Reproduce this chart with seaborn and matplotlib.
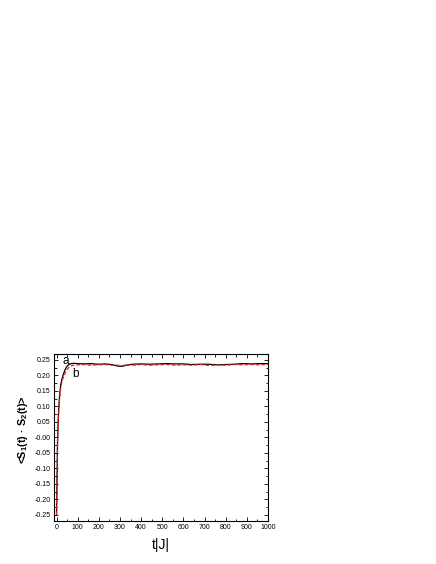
import numpy as np
import pandas as pd
import matplotlib
matplotlib.use("Agg")
import matplotlib.pyplot as plt
import seaborn as sns
from matplotlib.ticker import MultipleLocator

sns.set_style("ticks")
plt.rcParams['font.family'] = ['Liberation Sans', 'DejaVu Sans']
plt.rcParams['text.color'] = 'black'
plt.rcParams['axes.labelcolor'] = 'black'
plt.rcParams['xtick.color'] = 'black'
plt.rcParams['ytick.color'] = 'black'
plt.rcParams['axes.edgecolor'] = 'black'
plt.rcParams['mathtext.fontset'] = 'custom'
plt.rcParams['mathtext.rm'] = 'Liberation Sans'
plt.rcParams['mathtext.bf'] = 'Liberation Sans:bold'

t_vals = [0, 2, 5, 10, 15, 20, 25, 30, 40, 50, 60, 70, 80, 100, 130, 160, 200, 230, 260,
          290, 310, 330, 360, 400, 440, 480, 520, 560, 600, 640, 680, 720, 760, 800,
          840, 880, 920, 960, 1000]
curve_a = [-0.25, -0.15, 0.0, 0.09, 0.14, 0.17, 0.186, 0.199, 0.218, 0.230, 0.236, 0.238, 0.239,
           0.238, 0.237, 0.238, 0.236, 0.237, 0.235, 0.230, 0.229, 0.233, 0.236, 0.237,
           0.236, 0.237, 0.238, 0.237, 0.237, 0.235, 0.236, 0.236, 0.234, 0.235,
           0.236, 0.238, 0.237, 0.238, 0.238]
curve_b = [-0.25, -0.16, -0.01, 0.08, 0.13, 0.16, 0.177, 0.19, 0.207, 0.219, 0.227, 0.231, 0.233,
           0.234, 0.235, 0.233, 0.234, 0.235, 0.233, 0.233, 0.231, 0.234, 0.233, 0.235,
           0.233, 0.234, 0.235, 0.233, 0.234, 0.233, 0.235, 0.232, 0.234, 0.233,
           0.235, 0.234, 0.235, 0.234, 0.236]

df = pd.DataFrame({"t": t_vals * 2,
                   "v": curve_a + curve_b,
                   "curve": ["a"] * len(t_vals) + ["b"] * len(t_vals)})

fig = plt.figure(figsize=(4.36, 5.64), dpi=100)
ax = fig.add_axes([54 / 436, 1 - 520.5 / 564, 214 / 436, 166.5 / 564])

sns.lineplot(data=df[df.curve == "a"], x="t", y="v", color="black", lw=0.9, ax=ax)
sns.lineplot(data=df[df.curve == "b"], x="t", y="v", color="#e02020", lw=0.9,
             linestyle=(0, (3, 1.5)), ax=ax)

ax.set_xlim(-12, 1000)
ax.set_ylim(-0.268, 0.269)
ax.xaxis.set_major_locator(MultipleLocator(100))
ax.xaxis.set_minor_locator(MultipleLocator(50))
ax.yaxis.set_minor_locator(MultipleLocator(0.025))
ax.set_yticks(np.arange(-0.25, 0.2501, 0.05))
ax.set_yticklabels([f"{v:.2f}" for v in np.arange(-0.25, 0.2501, 0.05)])
ax.tick_params(which="both", direction="in", top=True, right=True, labelsize=5, width=0.6,
               pad=2.5)
ax.tick_params(which="major", length=3)
ax.tick_params(which="minor", length=1.8)
for s in ax.spines.values():
    s.set_linewidth(0.8)

ax.text(30, 0.237, "a", fontsize=8.5)
ax.text(76, 0.196, "b", fontsize=8.5)

ax.set_xlabel("t|J|", fontsize=10, labelpad=5)
ax.set_ylabel(r"<S$_\mathbf{1}$(t) · S$_\mathbf{2}$(t)>", fontsize=7.8, fontweight="bold")
ax.yaxis.set_label_coords(-0.112, 0.544)

fig.savefig("out.png", dpi=100)
